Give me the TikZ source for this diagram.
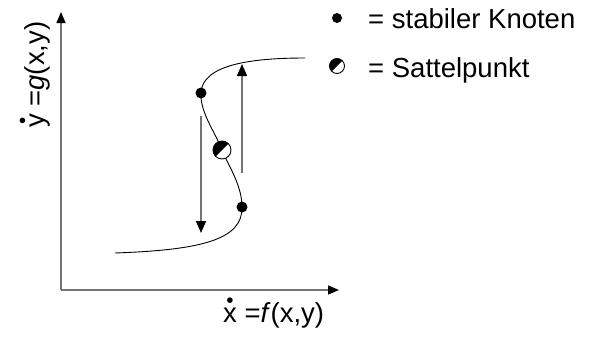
\documentclass[tikz,border=0pt]{standalone}
\usepackage{fontspec}
\setmainfont{Liberation Sans}
\usetikzlibrary{arrows.meta}
\newcommand{\dotover}[1]{{\ooalign{#1\cr\hidewidth\raisebox{0.53em}{\scalebox{0.75}{•}}\hidewidth\cr}}}
\begin{document}
\begin{tikzpicture}[x=1pt,y=-1pt,
  axis/.style={draw=black!55,line width=1.4pt,-{Triangle[length=11pt,width=9pt,color=black]}},
  jump/.style={draw=black!55,line width=1.4pt,-{Triangle[length=12pt,width=10pt,color=black]}},
  curve/.style={draw=black,line width=0.9pt},
  stable/.style={circle,fill=black,inner sep=0pt,minimum size=#1},
  lbl/.style={font=\fontsize{27.5}{33}\selectfont,inner sep=0pt}
]
\useasboundingbox (0,0) rectangle (589,338);
% axes
\coordinate (O) at (61,290);
\coordinate (ytop) at (61,12);
\coordinate (xend) at (339,290);
\draw[axis] (O) -- (ytop);
\draw[axis] (O) -- (xend);
% S-curve
\coordinate (c0) at (115,253);
\coordinate (c1) at (242,207);
\coordinate (c2) at (222,150);
\coordinate (c3) at (201,93);
\coordinate (c4) at (305,58);
\draw[curve] (c0) .. controls (200,250) and (243,240) .. (c1)
  .. controls (242,185) and (228,165) .. (c2)
  .. controls (214,130) and (200,112) .. (c3)
  .. controls (202,65) and (250,58) .. (c4);
% jump arrows
\coordinate (d0) at (201,116);
\coordinate (d1) at (201,233);
\coordinate (u0) at (242,173);
\coordinate (u1) at (242,64);
\draw[jump] (d0) -- (d1);
\draw[jump] (u0) -- (u1);
% fixed points
\node[stable=11pt] (s1) at (c3) {};
\node[stable=11pt] (s2) at (c1) {};
\begin{scope}[shift={(c2)}]
  \fill[white] (0,0) circle (9);
  \fill[black] (135:9) arc (135:315:9) -- cycle;
  \draw[black,line width=0.9pt] (0,0) circle (9);
\end{scope}
% legend
\node[stable=10pt] (ls) at (337,18) {};
\begin{scope}[shift={(337,66)}]
  \fill[white] (0,0) circle (7.5);
  \fill[black] (135:7.5) arc (135:315:7.5) -- cycle;
  \draw[black,line width=0.9pt] (0,0) circle (7.5);
\end{scope}
\node[lbl,anchor=base west] (t1) at (368,28) {= stabiler Knoten};
\node[lbl,anchor=base west] (t2) at (368,77) {= Sattelpunkt};
% axis labels
\node[lbl,anchor=base west] (xl) at (223,322) {\dotover{x} =\textit{f}(x,y)};
\node[lbl,anchor=base west,rotate=90] (yl) at (44,128) {\dotover{y} =\textit{g}(x,y)};
\end{tikzpicture}
\end{document}
